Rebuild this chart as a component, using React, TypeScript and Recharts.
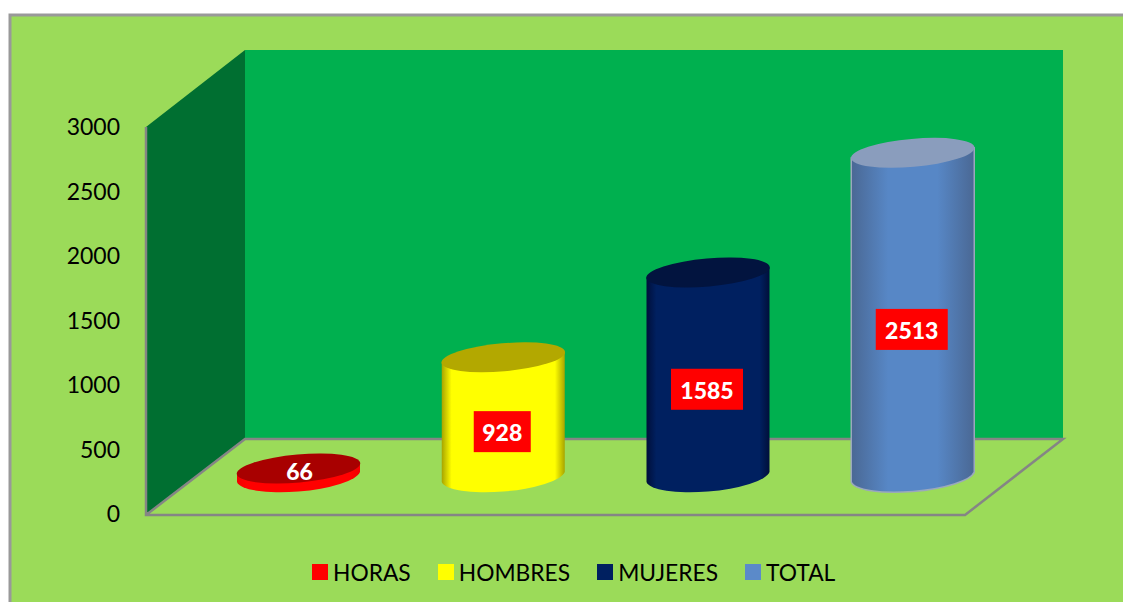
import React from 'react';
import { BarChart, Bar, XAxis, YAxis, Legend, LabelList } from 'recharts';

const categories = ['HORAS', 'HOMBRES', 'MUJERES', 'TOTAL'];
const values = [66, 928, 1585, 2513];
const yTicks = [0, 500, 1000, 1500, 2000, 2500, 3000];

const data = categories.map((name, i) => ({ name, value: values[i] }));

// face colours: edge, centre, cap, swatch
const palette = [
  { edge: '#f00000', mid: '#ff0000', cap: '#a80000', swatch: '#ff0000' },
  { edge: '#a8a400', mid: '#ffff00', cap: '#b3a800', swatch: '#ffff00' },
  { edge: '#000f3a', mid: '#002060', cap: '#02143f', swatch: '#002060' },
  { edge: '#4a6894', mid: '#5787c6', cap: '#8a9dbd', swatch: '#5b8ac9' },
];

const FONT = 'Lato, sans-serif';
const W = 1123;
const H = 602;
const LEFT = 146;
const RIGHT = 965;
const TOP = 127;
const BOTTOM = 514;
// depth of the fake 3D box
const DX = 99;
const DY = 76;
// bars stand in the middle of the floor
const BAR_DX = 50;
const BAR_DY = -37;
const RX = 61.5;
const RY = 13;
const TILT = -5;
const SKEW = 5;

const Box = () => (
  <g>
    <defs>
      {palette.map((p, i) => (
        <linearGradient key={i} id={`face-${i}`} x1="0" y1="0" x2="1" y2="0">
          <stop offset="0%" stopColor={p.edge} />
          <stop offset={i === 3 ? '30%' : '8%'} stopColor={p.mid} />
          <stop offset="50%" stopColor={p.mid} />
          <stop offset={i === 3 ? '70%' : '92%'} stopColor={p.mid} />
          <stop offset="100%" stopColor={p.edge} />
        </linearGradient>
      ))}
    </defs>
    <rect x={10} y={15} width={W} height={H} fill="#9bdb59" stroke="#999999" strokeWidth={3} />
    <polygon
      points={`${LEFT + DX},${TOP - DY - 1} ${RIGHT + DX - 1},${TOP - DY - 1} ${RIGHT + DX - 1},${BOTTOM - DY + 1} ${LEFT + DX},${BOTTOM - DY + 1}`}
      fill="#00b04f"
    />
    <polygon
      points={`${LEFT},${TOP} ${LEFT + DX},${TOP - DY - 1} ${LEFT + DX},${BOTTOM - DY + 1} ${LEFT},${BOTTOM + 1}`}
      fill="#006f31"
    />
    <polyline
      points={`${LEFT},${TOP} ${LEFT},${BOTTOM + 1} ${RIGHT},${BOTTOM + 1} ${RIGHT + DX - 1},${BOTTOM - DY + 1} ${LEFT + DX},${BOTTOM - DY + 1} ${LEFT},${BOTTOM + 1}`}
      fill="none"
      stroke="#858585"
      strokeWidth={2.5}
    />
  </g>
);

const Cylinder = (props: any) => {
  const { x, y, width, height, index } = props;
  const cx = x + width / 2 + BAR_DX;
  const top = y + BAR_DY;
  const base = y + height + BAR_DY;
  const l = cx - RX;
  const r = cx + RX;
  const p = palette[index];
  const body = `M${l},${top + SKEW} L${l},${base + SKEW} A${RX + 0.5},${RY + 3} ${TILT} 0 0 ${r},${base - SKEW} L${r},${top - SKEW} Z`;
  return (
    <g>
      <path
        d={body}
        fill={`url(#face-${index})`}
        stroke={index === 3 ? '#9aa8bd' : 'none'}
        strokeWidth={index === 3 ? 1.5 : 0}
      />
      <ellipse
        cx={cx}
        cy={top}
        rx={RX + 0.5}
        ry={RY + 1}
        fill={p.cap}
        transform={`rotate(${TILT} ${cx} ${top})`}
      />
    </g>
  );
};

const ValueLabel = (props: any) => {
  const { x, y, width, height, value } = props;
  const cx = x + width / 2 + BAR_DX - 1;
  const short = value < 100;
  const cy = y + height / 2 + BAR_DY + (short ? -3 : 14);
  const boxW = String(value).length * 15 + 12;
  return (
    <g>
      {!short && <rect x={cx - boxW / 2} y={cy - 20} width={boxW} height={41} fill="#ff0000" />}
      <text
        x={cx + (short ? 2 : 0)}
        y={cy + 1}
        textAnchor="middle"
        dominantBaseline="central"
        fontFamily={FONT}
        fontWeight={900}
        fontSize={23}
        fill="#ffffff"
      >
        {value}
      </text>
    </g>
  );
};

// zero height so the legend does not take space from the plot
const LegendRow = () => (
  <div style={{ display: 'flex', height: 0, overflow: 'visible', fontFamily: FONT, fontSize: 22.8, color: '#000' }}>
    {categories.map((c, i) => (
      <div key={c} style={{ display: 'flex', alignItems: 'center', height: 26, marginRight: 27 }}>
        <span style={{ width: 16, height: 16, background: palette[i].swatch, marginRight: 5 }} />
        <span style={{ lineHeight: '26px' }}>{c}</span>
      </div>
    ))}
  </div>
);

export default function App() {
  return (
    <div style={{ position: 'fixed', left: 0, top: 0, width: W, height: H, background: '#fff', overflow: 'hidden' }}>
      <BarChart
        width={W}
        height={H}
        data={data}
        margin={{ top: TOP, right: W - RIGHT, bottom: H - BOTTOM, left: 0 }}
        barSize={RX * 2}
      >
        <Box />
        <XAxis dataKey="name" hide />
        <YAxis
          domain={[0, 3000]}
          ticks={yTicks}
          width={LEFT}
          axisLine={false}
          tickLine={false}
          tickSize={0}
          tickMargin={26}
          interval={0}
          tick={{ fontFamily: FONT, fontSize: 23, fill: '#000' }}
        />
        <Legend
          content={<LegendRow />}
          wrapperStyle={{ position: 'absolute', left: 312, top: 559, width: 600, height: 0, bottom: 'auto' }}
        />
        <Bar dataKey="value" isAnimationActive={false} shape={<Cylinder />}>
          <LabelList dataKey="value" content={<ValueLabel />} />
        </Bar>
      </BarChart>
    </div>
  );
}
